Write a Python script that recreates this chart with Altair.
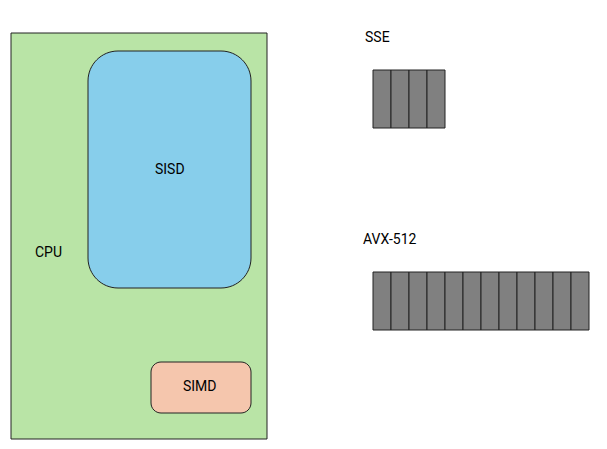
import altair as alt
import pandas as pd

# boxes (pixel coordinates of the diagram)
box_names = ["CPU", "SISD", "SIMD"]
box_x = [11, 88, 151]
box_x2 = [267, 251, 251]
box_y = [33, 51, 362]
box_y2 = [439, 288, 413]
box_fill = ["#b9e4a6", "#87ceeb", "#f5c6ad"]
box_radius = [0, 30, 10]

# register lanes
reg_names = ["SSE", "AVX-512"]
reg_lanes = [4, 12]
reg_x0 = [373, 373]
reg_y = [70, 272]
reg_y2 = [128, 330]
lane_w = 18

labels = ["CPU", "SISD", "SIMD", "SSE", "AVX-512"]
label_x = [35, 155, 183, 365, 363]
label_y = [253, 170, 387, 38, 240]

xs = alt.Scale(domain=[8, 599], nice=False, zero=False)
ys = alt.Scale(domain=[441, 8], nice=False, zero=False)

layers = []
for i, n in enumerate(box_names):
    d = pd.DataFrame({"x": [box_x[i]], "x2": [box_x2[i]], "y": [box_y[i]], "y2": [box_y2[i]]})
    layers.append(
        alt.Chart(d).mark_rect(fill=box_fill[i], stroke="#222", strokeWidth=1,
                               cornerRadius=box_radius[i]).encode(
            x=alt.X("x:Q", scale=xs, axis=None), x2="x2",
            y=alt.Y("y:Q", scale=ys, axis=None), y2="y2")
    )

rows = []
for r, n in enumerate(reg_names):
    for k in range(reg_lanes[r]):
        rows.append({"x": reg_x0[r] + k * lane_w, "x2": reg_x0[r] + (k + 1) * lane_w,
                     "y": reg_y[r], "y2": reg_y2[r]})
layers.append(
    alt.Chart(pd.DataFrame(rows)).mark_rect(fill="#808080", stroke="#222", strokeWidth=1).encode(
        x=alt.X("x:Q", scale=xs, axis=None), x2="x2",
        y=alt.Y("y:Q", scale=ys, axis=None), y2="y2")
)

ld = pd.DataFrame({"t": labels, "x": label_x, "y": label_y})
layers.append(
    alt.Chart(ld).mark_text(align="left", baseline="middle", fontSize=14, font="Roboto",
                            color="black").encode(
        x=alt.X("x:Q", scale=xs, axis=None), y=alt.Y("y:Q", scale=ys, axis=None), text="t")
)

chart = alt.layer(*layers).properties(
    width=591, height=433, autosize=alt.AutoSizeParams(type="none"), padding=0
).configure_view(stroke=None)

chart.save("out.html", embed_options={"renderer": "svg", "actions": False})
